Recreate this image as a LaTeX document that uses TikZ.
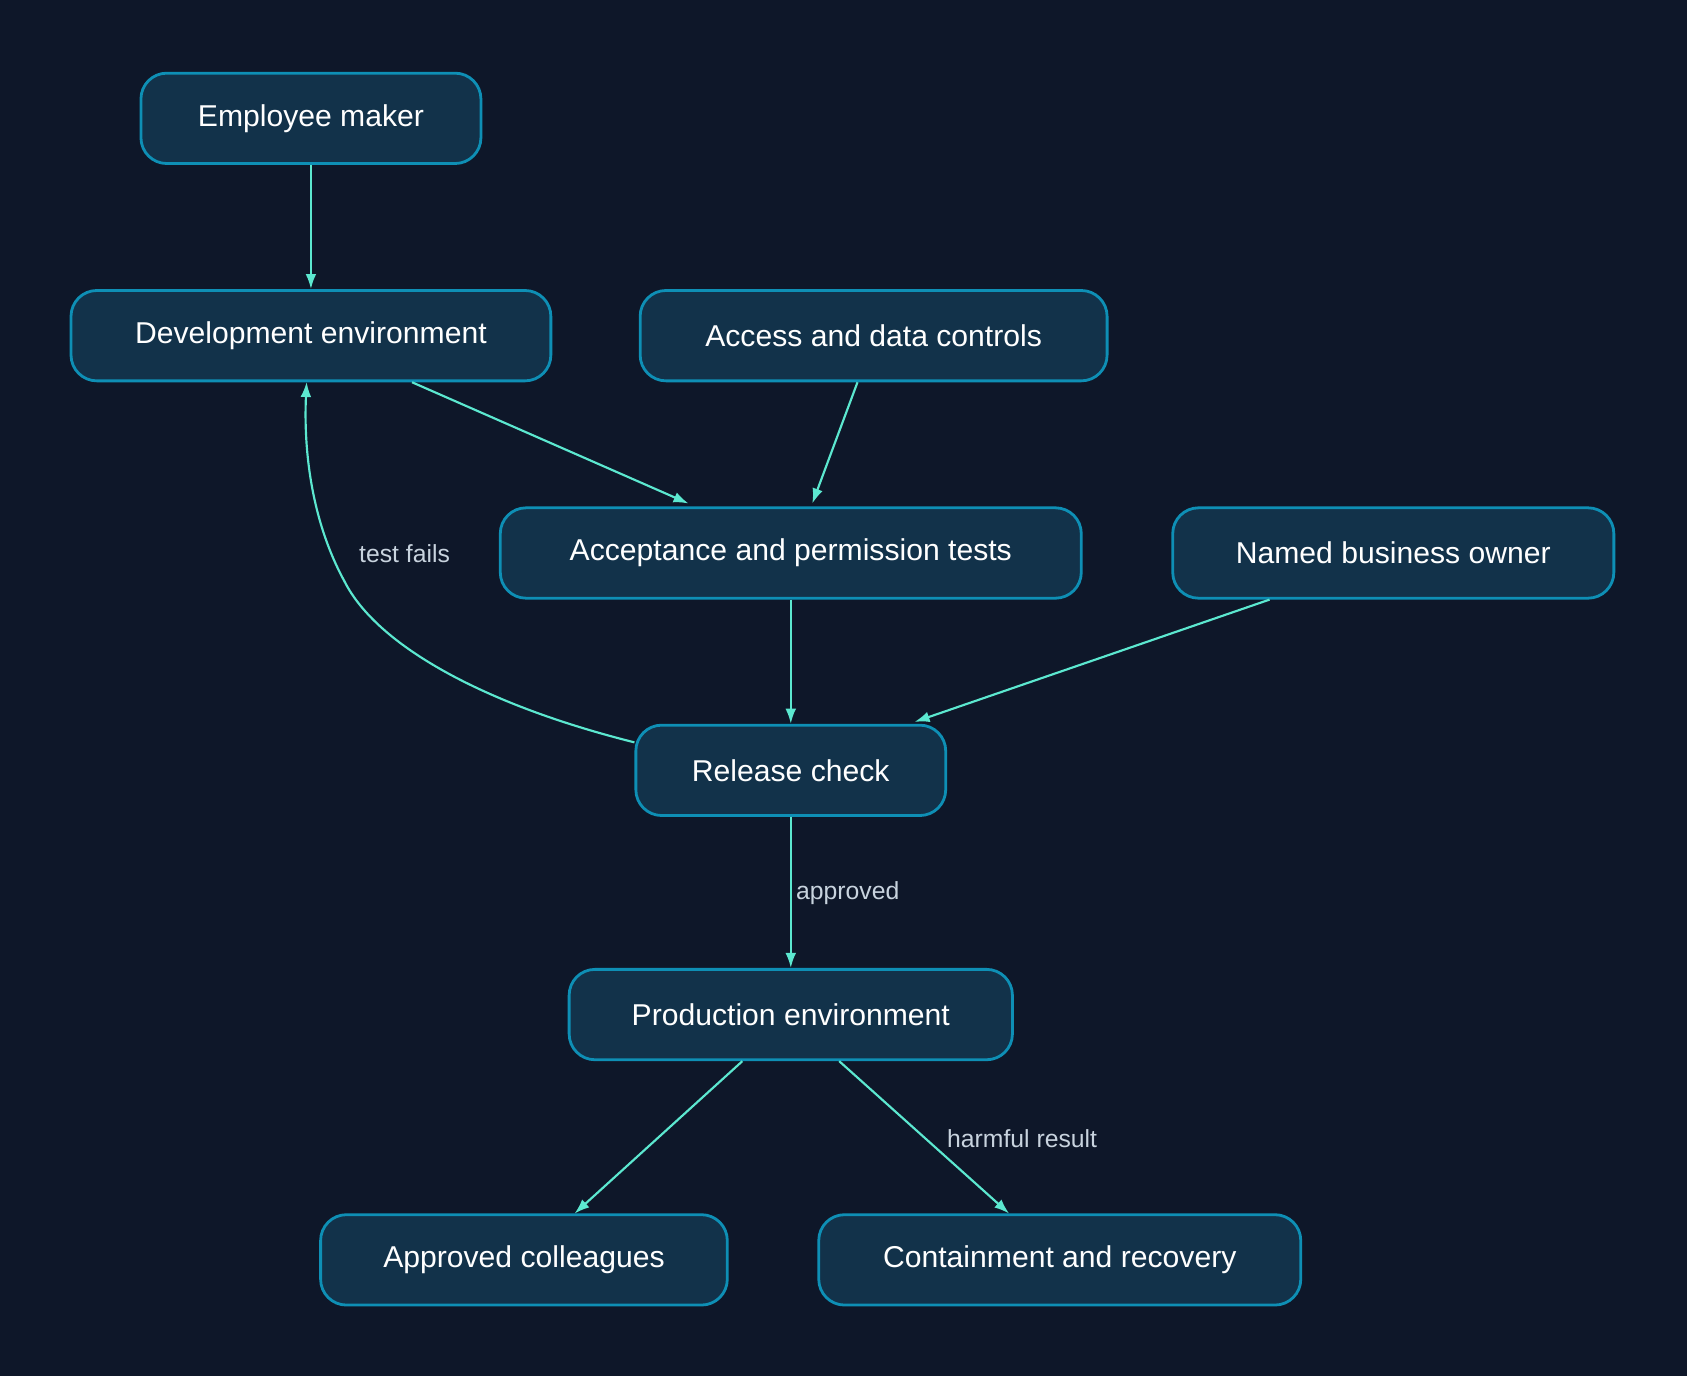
\documentclass[tikz,border=0pt]{standalone}
\usepackage{fontspec}
\setmainfont{Liberation Sans}
\usetikzlibrary{arrows.meta}
\definecolor{bgcol}{HTML}{0E1729}
\definecolor{boxcol}{HTML}{12324A}
\definecolor{linecol}{HTML}{0E8FB5}
\definecolor{arrcol}{HTML}{5CE8D0}
\definecolor{labcol}{HTML}{C8D3DE}
\tikzset{
  stage/.style={draw=linecol,fill=boxcol,line width=1.3bp,rounded corners=12bp,
    text=white,font=\fontsize{14bp}{16bp}\selectfont,minimum height=42bp,inner sep=0pt},
  flow/.style={draw=arrcol,line width=1bp,-{Latex[length=7bp,width=5bp]}},
  elab/.style={text=labcol,font=\fontsize{11.5bp}{13bp}\selectfont}
}
\begin{document}
\begin{tikzpicture}[x=0.5bp,y=-0.5bp]
  \fill[bgcol] (0,0) rectangle (1568,1279);
  \node (Maker) at (289,110) [stage,minimum width=158bp] {Employee maker};
  \node (DevEnv) at (289,312) [stage,minimum width=223bp] {Development environment};
  \node (Controls) at (812,312) [stage,minimum width=217bp] {Access and data controls};
  \node (Tests) at (735,514) [stage,minimum width=270bp] {Acceptance and permission tests};
  \node (Owner) at (1295,514) [stage,minimum width=205bp] {Named business owner};
  \node (Release) at (735,716) [stage,minimum width=144bp] {Release check};
  \node (ProdEnv) at (735,943) [stage,minimum width=206bp] {Production environment};
  \node (Colleagues) at (487,1171) [stage,minimum width=189bp] {Approved colleagues};
  \node (Recovery) at (985,1171) [stage,minimum width=224bp] {Containment and recovery};
  \draw [flow] (Maker) -- (DevEnv);
  \draw [flow] (DevEnv.south) ++(94,0) coordinate (d1) (d1) -- (640,468);
  \draw [flow] (Controls.south) ++(-15,0) coordinate (c1) (c1) -- (755,468);
  \draw [flow] (Tests) -- (Release);
  \draw [flow] (Owner.south) ++(-115,0) coordinate (o1) (o1) -- (850,671);
  \draw [flow] (Release.west) ++(0,-26) coordinate (r1) (r1) .. controls (450,655) and (350,600) .. (320,540) .. controls (290,485) and (282,420) .. (285,355);
  \draw (376,515) node [elab] {test fails};
  \draw [flow] (Release) -- (ProdEnv);
  \draw (788,830) node [elab] {approved};
  \draw [flow] (ProdEnv.south) ++(-45,0) coordinate (p1) (p1) -- (534,1128);
  \draw [flow] (ProdEnv.south) ++(45,0) coordinate (p2) (p2) -- (938,1128);
  \draw (950,1058) node [elab] {harmful result};
\end{tikzpicture}
\end{document}
